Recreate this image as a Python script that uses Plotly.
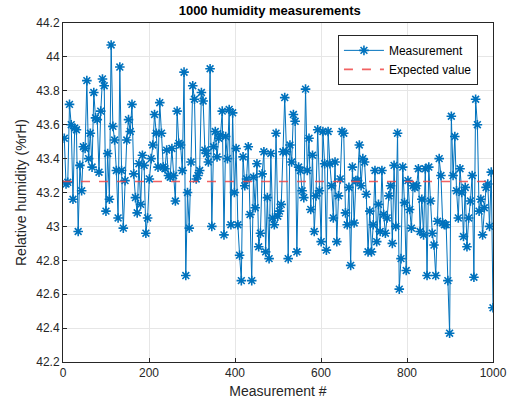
import numpy as np
import plotly.graph_objects as go

# Humidity readings (%rH), read left to right from the reference
seg1 = [43.52, 43.25, 43.26, 43.72, 43.60, 43.16, 43.58, 43.57, 42.97, 43.36, 43.21, 43.47,
        43.46, 43.86, 43.40, 43.55, 43.35, 43.79, 43.64, 43.63, 43.32, 43.68, 43.87, 43.83,
        43.09, 43.43, 43.16, 44.07, 43.59, 43.51, 43.33, 43.05, 43.94]
seg2 = [43.33, 42.99, 43.27, 43.51, 43.63, 43.56, 43.72, 43.31, 43.17, 43.08, 43.37, 43.13,
        43.42, 43.36, 42.96, 43.05, 43.28, 43.40, 43.48, 43.66, 43.55, 43.35, 43.73, 43.55,
        43.35, 43.34, 43.45, 43.30, 43.29]
seg3 = [43.46, 43.30, 43.15, 43.68, 43.49, 43.48, 43.33, 43.91, 42.71, 43.20, 42.99, 43.38,
        43.83, 43.75, 43.28, 43.30, 43.33, 43.79, 43.74, 43.45, 43.43, 43.38, 43.93, 43.00,
        43.47, 43.56, 43.41, 43.52, 43.54]
seg4 = [43.68, 42.95, 43.53, 43.40, 43.69, 43.01, 43.67, 43.20, 43.46, 43.01, 42.83, 42.68,
        43.41, 43.24, 43.28, 43.47, 43.07, 42.68, 43.29, 43.11, 43.37, 42.88, 42.96, 43.31,
        43.44, 42.85, 43.17, 42.81, 43.43, 43.05, 43.01]
seg5 = [43.55, 43.06, 43.09, 43.13, 43.44, 43.76, 43.44, 42.81, 43.48, 43.38, 43.66, 43.62,
        42.85, 43.35, 43.33, 43.21, 43.17, 43.81, 43.33, 43.52, 43.10, 43.42, 42.97, 43.18,
        43.57, 43.21, 42.91, 43.56]
seg6 = [43.37, 42.86, 43.56, 43.37, 43.24, 43.05, 43.38, 42.91, 43.18, 43.28, 43.56, 43.55,
        43.08, 43.01, 43.23, 42.77, 43.35, 43.02, 43.27, 43.27, 43.48, 43.24, 43.40, 43.38,
        43.19, 42.85, 43.09, 42.85, 43.01]
seg7 = [43.33, 42.91, 43.13, 42.97, 43.33, 43.07, 42.96, 43.05, 43.18, 43.24, 42.90, 43.36,
        43.00, 43.55, 42.63, 42.81, 43.35, 43.14, 42.74, 43.27, 43.10, 42.99, 43.24, 43.23,
        43.24, 43.34, 42.97, 43.16, 42.95, 43.34, 42.71]
seg8 = [43.35, 43.15, 42.96, 42.89, 42.71, 43.03, 43.40, 43.30, 43.02, 43.01, 43.01, 42.68,
        42.37, 43.65, 43.30, 43.53, 43.21, 43.05, 43.34, 43.20, 42.94, 43.23, 42.88, 43.05,
        43.15, 43.30, 42.70, 43.75, 43.60, 43.09, 43.16, 42.95, 43.11, 43.23, 43.25, 43.00,
        43.32, 42.52]

humidity = seg1 + seg2 + seg3 + seg4 + seg5 + seg6 + seg7 + seg8
measurement_no = np.linspace(3, 1000, len(humidity))
expected_value = 43.265
expected_x = [0, 1000]

blue = "#0072BD"
font = "Liberation Sans, Arial, Helvetica, sans-serif"

fig = go.Figure()
fig.add_trace(go.Scatter(
    x=measurement_no, y=humidity, mode="lines+markers", name="Measurement",
    line=dict(color=blue, width=1),
    marker=dict(symbol="asterisk-open", size=8, color=blue, line=dict(color=blue, width=1.6)),
))
fig.add_trace(go.Scatter(
    x=expected_x, y=[expected_value, expected_value], mode="lines", name="Expected value",
    line=dict(color="rgba(240,70,70,0.85)", width=1.6, dash="dash"),
))

axis_common = dict(
    showgrid=True, gridcolor="#e6e6e6", gridwidth=1,
    showline=True, linecolor="#262626", linewidth=1, mirror=True,
    ticks="inside", ticklen=4, tickcolor="#262626",
    tickfont=dict(family=font, size=12, color="#262626"),
    zeroline=False, automargin=False,
)

fig.update_layout(
    width=507, height=408,
    margin=dict(l=63, r=14, t=23, b=46),
    paper_bgcolor="white", plot_bgcolor="white",
    title=dict(text="<b>1000 humidity measurements</b>", x=0.532, xanchor="center",
               y=0.985, yanchor="top",
               font=dict(family=font, size=13, color="black")),
    xaxis=dict(range=[0, 1000], dtick=200,
               title=dict(text="Measurement #", font=dict(family=font, size=14, color="#262626"),
                          standoff=6),
               **axis_common),
    yaxis=dict(range=[42.2, 44.2], dtick=0.2,
               title=dict(text="Relative humidity (%rH)", font=dict(family=font, size=14, color="#262626"),
                          standoff=6),
               **axis_common),
    legend=dict(x=0.965, y=0.965, xanchor="right", yanchor="top",
                bgcolor="white", bordercolor="#262626", borderwidth=1,
                font=dict(family=font, size=12, color="black"),
                tracegroupgap=0, itemwidth=40),
    showlegend=True,
)

fig.write_html("out.html")
